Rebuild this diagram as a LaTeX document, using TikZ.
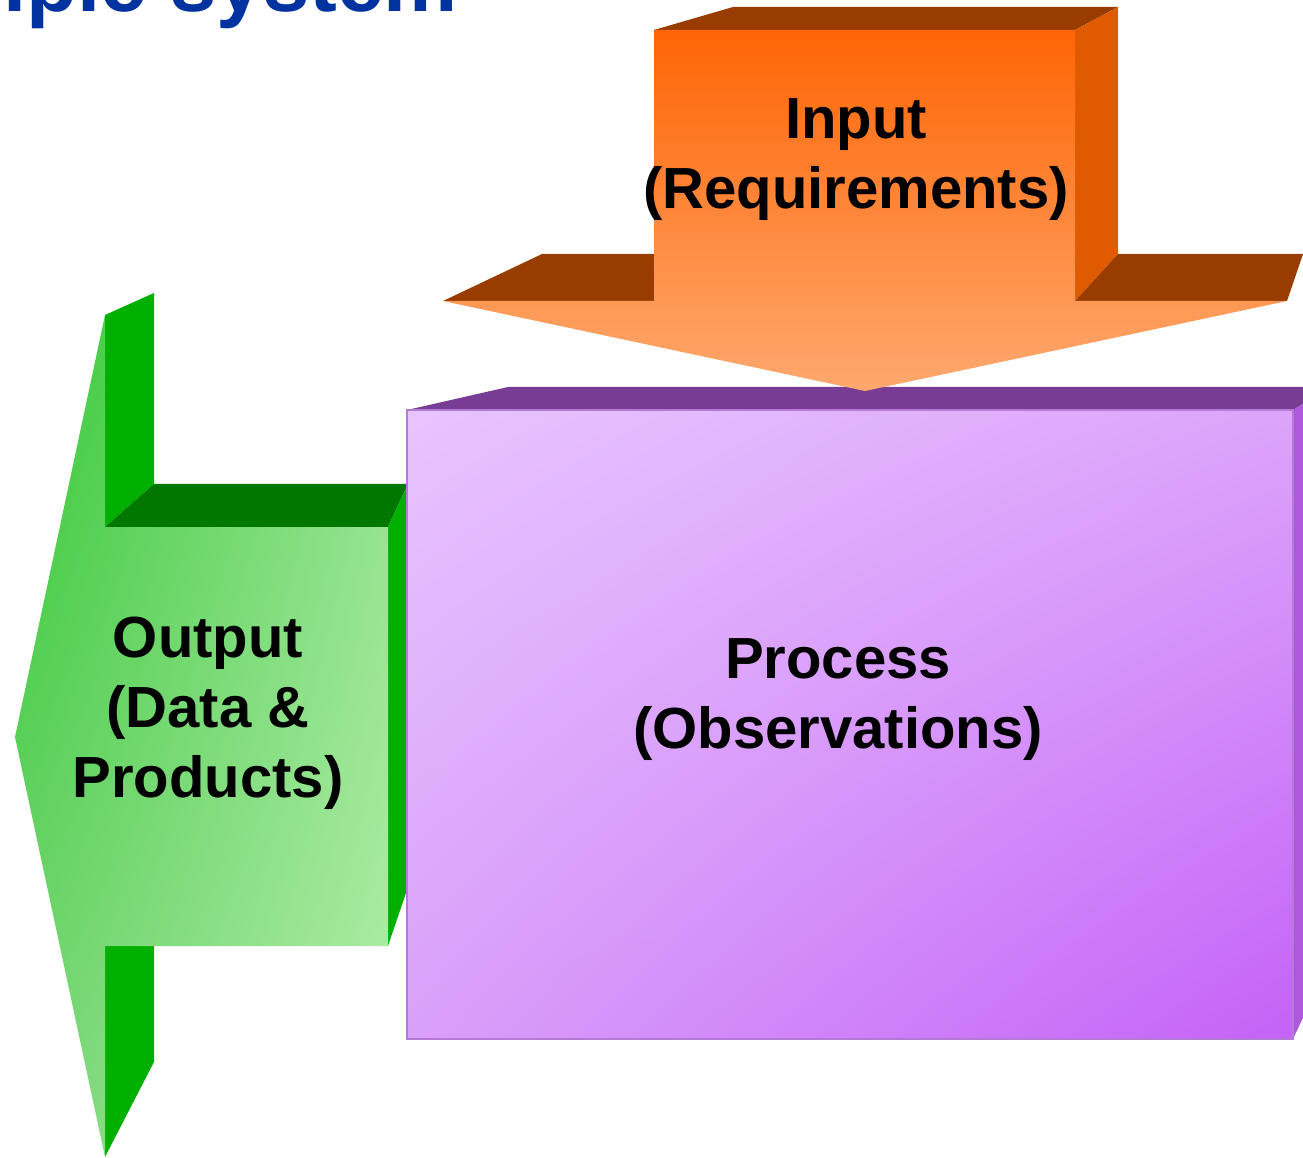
\documentclass[tikz,border=0pt]{standalone}
\usepackage{fontspec}
\setmainfont{Liberation Sans}
\usetikzlibrary{shadings}
\definecolor{titleblue}{HTML}{0033A0}
\definecolor{otop}{HTML}{993C00}
\definecolor{oside}{HTML}{E05A00}
\definecolor{ofrontA}{HTML}{FF6505}
\definecolor{ofrontB}{HTML}{FFA86E}
\definecolor{ptop}{HTML}{773C93}
\definecolor{pside}{HTML}{B058DD}
\definecolor{pedge}{HTML}{B47AD6}
\definecolor{pUL}{HTML}{E8C4FF}
\definecolor{pUR}{HTML}{DCA4FA}
\definecolor{pLL}{HTML}{D9A0F9}
\definecolor{pLR}{HTML}{C462F8}
\definecolor{gtop}{HTML}{007800}
\definecolor{gside}{HTML}{00B000}
\definecolor{gUL}{HTML}{36C936}
\definecolor{gUR}{HTML}{8EE089}
\definecolor{gLL}{HTML}{7AD677}
\definecolor{gLR}{HTML}{B2EEAA}
\begin{document}
\begin{tikzpicture}[x=0.01cm,y=-0.01cm,
  lbl/.style={font=\fontsize{16.5}{19.9}\selectfont\bfseries, align=center, text=black, inner sep=0pt}]
\useasboundingbox (0,0) rectangle (1303,1158);
% title (cut off at the top)
\node[anchor=base west, font=\fontsize{23.7}{28}\selectfont\bfseries, text=titleblue, inner sep=0pt] (title) at (3,12) {iple system};
% ---------- green output arrow ----------
\fill[gside] (105,315) -- (154,293) -- (154,484) -- (105,527) -- cycle;
\fill[gtop] (105,527) -- (154,484) -- (408,484) -- (388,527) -- cycle;
\fill[gside] (388,527) -- (408,484) -- (408,887) -- (388,946) -- cycle;
\fill[gside] (105,946) -- (154,946) -- (154,1062) -- (105,1157) -- cycle;
\shade[upper left=gUL, upper right=gUR, lower left=gLL, lower right=gLR]
  (105,315) -- (105,527) -- (388,527) -- (388,946) -- (105,946) -- (105,1157) -- (15,737) -- cycle;
\node[lbl] (output) at (208,713) {Output\\(Data \&\\Products)};
% ---------- purple process box ----------
\fill[ptop] (407,410) -- (508,387) -- (1330,387) -- (1293,410) -- cycle;
\fill[pside] (1293,410) -- (1330,387) -- (1330,960) -- (1293,1039) -- cycle;
\shade[upper left=pUL, upper right=pUR, lower left=pLL, lower right=pLR]
  (407,410) rectangle (1293,1039);
\draw[pedge, line width=0.8pt] (407,410) rectangle (1293,1039);
\node[lbl] (process) at (838,700) {Process\\(Observations)};
% ---------- orange input arrow ----------
\fill[otop] (654,30) -- (733,7) -- (1118,7) -- (1075,30) -- cycle;
\fill[oside] (1075,30) -- (1118,7) -- (1118,254) -- (1075,301) -- cycle;
\fill[otop] (443,301) -- (542,254) -- (654,254) -- (654,301) -- cycle;
\fill[otop] (1075,301) -- (1118,254) -- (1303,254) -- (1287,301) -- cycle;
\shade[top color=ofrontA, bottom color=ofrontB]
  (443,301) -- (654,301) -- (654,30) -- (1075,30) -- (1075,301) -- (1287,301) -- (865,391) -- cycle;
\node[lbl] (input) at (856,160) {Input\\(Requirements)};
\end{tikzpicture}
\end{document}
